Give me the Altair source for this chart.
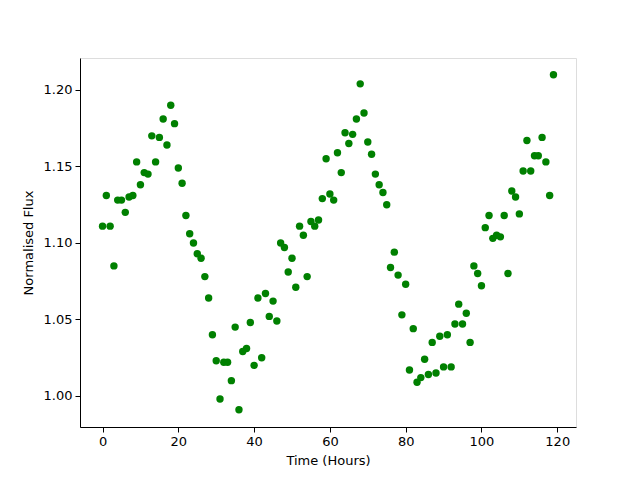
import altair as alt
import pandas as pd

hours = list(range(120))
flux = [
    1.111, 1.131, 1.111, 1.085, 1.128, 1.128, 1.120, 1.130, 1.131, 1.153,
    1.138, 1.146, 1.145, 1.170, 1.153, 1.169, 1.181, 1.164, 1.190, 1.178,
    1.149, 1.139, 1.118, 1.106, 1.100, 1.093, 1.090, 1.078, 1.064, 1.040,
    1.023, 0.998, 1.022, 1.022, 1.010, 1.045, 0.991, 1.029, 1.031, 1.048,
    1.020, 1.064, 1.025, 1.067, 1.052, 1.062, 1.049, 1.100, 1.097, 1.081,
    1.090, 1.071, 1.111, 1.105, 1.078, 1.114, 1.111, 1.115, 1.129, 1.155,
    1.132, 1.128, 1.159, 1.146, 1.172, 1.165, 1.171, 1.181, 1.204, 1.185,
    1.166, 1.158, 1.145, 1.138, 1.133, 1.125, 1.084, 1.094, 1.079, 1.053,
    1.073, 1.017, 1.044, 1.009, 1.012, 1.024, 1.014, 1.035, 1.015, 1.039,
    1.019, 1.040, 1.019, 1.047, 1.060, 1.047, 1.054, 1.035, 1.085, 1.080,
    1.072, 1.110, 1.118, 1.103, 1.105, 1.104, 1.118, 1.080, 1.134, 1.130,
    1.119, 1.147, 1.167, 1.147, 1.157, 1.157, 1.169, 1.153, 1.131, 1.210,
]
x_ticks = [0, 20, 40, 60, 80, 100, 120]
y_ticks = [1.00, 1.05, 1.10, 1.15, 1.20]

df = pd.DataFrame({"hours": hours, "flux": flux})

font = "DejaVu Sans"
axis_common = dict(
    domainColor="black", tickColor="black", labelColor="black", titleColor="black",
    labelFont=font, titleFont=font, labelFontSize=13, titleFontSize=13,
    titleFontWeight="normal", tickSize=5, labelPadding=3, grid=False,
)

chart = alt.Chart(df).mark_circle(size=55, color="#008000", opacity=1).encode(
    x=alt.X("hours:Q", scale=alt.Scale(domain=[-5.95, 124.95], nice=False, zero=False),
            axis=alt.Axis(title="Time (Hours)", values=x_ticks, titlePadding=6, **axis_common)),
    y=alt.Y("flux:Q", scale=alt.Scale(domain=[0.9797, 1.2209], nice=False, zero=False),
            axis=alt.Axis(title="Normalised Flux", values=y_ticks, format=".2f", titlePadding=8, **axis_common)),
).properties(
    width=496, height=369,
    autosize=alt.AutoSizeParams(type="none"),
    padding={"left": 72, "top": 50, "right": 56, "bottom": 45},
).configure_view(stroke="black", strokeWidth=1).configure(background="white")

chart.save("out.html", embed_options={"renderer": "svg", "actions": False})
